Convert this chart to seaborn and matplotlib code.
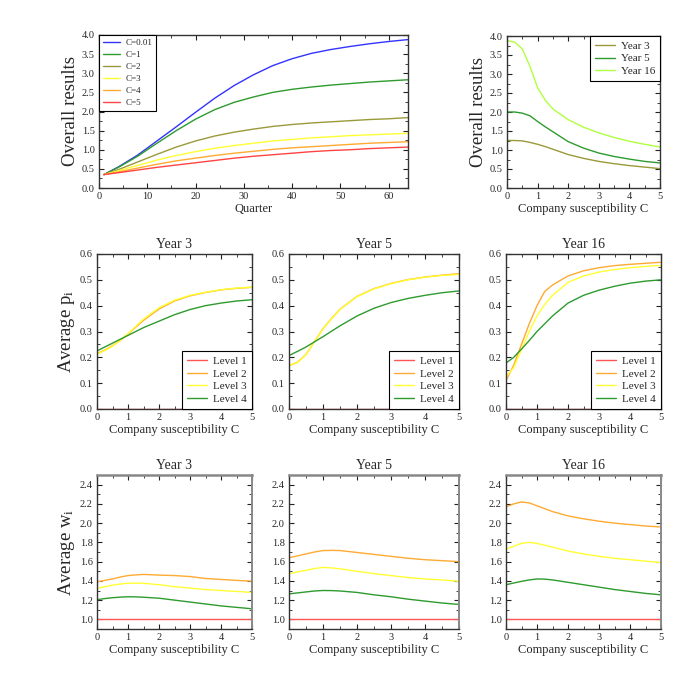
import matplotlib
matplotlib.use("Agg")
import matplotlib.pyplot as plt
import pandas as pd
import seaborn as sns
from matplotlib.ticker import AutoMinorLocator, MultipleLocator

# ---- data ----
quarters = [1, 4, 8, 12, 16, 20, 24, 28, 32, 36, 40, 44, 48, 52, 56, 60, 64]
overall_c001 = [0.35, 0.55, 0.86, 1.23, 1.60, 1.98, 2.35, 2.68, 2.96, 3.20, 3.38, 3.52, 3.62, 3.70, 3.77, 3.83, 3.88]
overall_c1 = [0.35, 0.54, 0.83, 1.17, 1.50, 1.80, 2.05, 2.24, 2.38, 2.50, 2.58, 2.64, 2.69, 2.73, 2.77, 2.80, 2.83]
overall_c2 = [0.35, 0.48, 0.68, 0.88, 1.07, 1.23, 1.36, 1.46, 1.54, 1.61, 1.66, 1.70, 1.73, 1.76, 1.79, 1.81, 1.84]
overall_c3 = [0.35, 0.45, 0.59, 0.73, 0.85, 0.95, 1.04, 1.11, 1.17, 1.23, 1.27, 1.31, 1.34, 1.37, 1.39, 1.41, 1.43]
overall_c4 = [0.35, 0.42, 0.52, 0.62, 0.71, 0.78, 0.85, 0.91, 0.96, 1.01, 1.05, 1.08, 1.11, 1.14, 1.17, 1.19, 1.21]
overall_c5 = [0.35, 0.40, 0.47, 0.54, 0.60, 0.66, 0.72, 0.78, 0.83, 0.87, 0.91, 0.95, 0.98, 1.00, 1.03, 1.05, 1.07]
c_labels = ["C=0.01", "C=1", "C=2", "C=3", "C=4", "C=5"]

susc = [0, 0.25, 0.5, 0.75, 1, 1.25, 1.5, 2, 2.5, 3, 3.5, 4, 4.5, 5]
overall_y3 = [1.25, 1.25, 1.24, 1.20, 1.15, 1.09, 1.02, 0.88, 0.78, 0.70, 0.64, 0.59, 0.55, 0.51]
overall_y5 = [2.00, 2.00, 1.97, 1.90, 1.75, 1.61, 1.48, 1.22, 1.05, 0.92, 0.83, 0.76, 0.70, 0.66]
overall_y16 = [3.88, 3.84, 3.66, 3.20, 2.64, 2.31, 2.08, 1.80, 1.60, 1.45, 1.33, 1.23, 1.15, 1.08]
year_labels = ["Year 3", "Year 5", "Year 16"]

level_labels = ["Level 1", "Level 2", "Level 3", "Level 4"]
p_lvl1 = [0.0] * 14
p_y3_lvl2 = [0.215, 0.228, 0.245, 0.265, 0.290, 0.317, 0.343, 0.387, 0.418, 0.438, 0.451, 0.461, 0.467, 0.471]
p_y3_lvl3 = [0.213, 0.226, 0.243, 0.266, 0.292, 0.320, 0.348, 0.392, 0.421, 0.440, 0.452, 0.462, 0.468, 0.472]
p_y3_lvl4 = [0.225, 0.240, 0.255, 0.270, 0.285, 0.300, 0.315, 0.340, 0.365, 0.385, 0.400, 0.410, 0.418, 0.423]
p_y5_lvl2 = [0.168, 0.181, 0.211, 0.261, 0.311, 0.350, 0.386, 0.436, 0.466, 0.486, 0.501, 0.511, 0.518, 0.524]
p_y5_lvl3 = [0.168, 0.180, 0.210, 0.260, 0.310, 0.349, 0.385, 0.435, 0.465, 0.485, 0.500, 0.510, 0.517, 0.521]
p_y5_lvl4 = [0.207, 0.223, 0.240, 0.260, 0.280, 0.301, 0.322, 0.360, 0.390, 0.412, 0.428, 0.440, 0.450, 0.457]
p_y16_lvl2 = [0.110, 0.170, 0.250, 0.330, 0.400, 0.455, 0.480, 0.515, 0.535, 0.547, 0.555, 0.560, 0.564, 0.568]
p_y16_lvl3 = [0.125, 0.160, 0.230, 0.300, 0.360, 0.405, 0.440, 0.490, 0.515, 0.530, 0.540, 0.547, 0.552, 0.556]
p_y16_lvl4 = [0.178, 0.200, 0.232, 0.265, 0.300, 0.330, 0.360, 0.410, 0.440, 0.460, 0.475, 0.487, 0.495, 0.500]

w_lvl1 = [1.0] * 14
w_y3_lvl2 = [1.390, 1.405, 1.420, 1.440, 1.455, 1.462, 1.467, 1.460, 1.455, 1.445, 1.425, 1.415, 1.405, 1.397]
w_y3_lvl3 = [1.320, 1.340, 1.355, 1.368, 1.375, 1.377, 1.375, 1.360, 1.340, 1.325, 1.310, 1.300, 1.290, 1.280]
w_y3_lvl4 = [1.205, 1.216, 1.225, 1.231, 1.235, 1.234, 1.230, 1.220, 1.200, 1.180, 1.160, 1.140, 1.125, 1.110]
w_y5_lvl2 = [1.640, 1.660, 1.680, 1.700, 1.715, 1.717, 1.715, 1.695, 1.675, 1.655, 1.635, 1.620, 1.610, 1.600]
w_y5_lvl3 = [1.475, 1.493, 1.510, 1.528, 1.540, 1.535, 1.525, 1.500, 1.475, 1.455, 1.435, 1.420, 1.410, 1.395]
w_y5_lvl4 = [1.265, 1.275, 1.285, 1.295, 1.300, 1.299, 1.295, 1.280, 1.255, 1.235, 1.210, 1.190, 1.170, 1.155]
w_y16_lvl2 = [2.170, 2.200, 2.220, 2.210, 2.180, 2.150, 2.120, 2.075, 2.045, 2.020, 2.000, 1.985, 1.970, 1.960]
w_y16_lvl3 = [1.730, 1.760, 1.790, 1.800, 1.790, 1.770, 1.750, 1.710, 1.680, 1.655, 1.635, 1.620, 1.605, 1.590]
w_y16_lvl4 = [1.360, 1.378, 1.395, 1.410, 1.420, 1.418, 1.410, 1.385, 1.360, 1.335, 1.310, 1.290, 1.270, 1.255]

c_colors = ["#3333ff", "#2e9b2e", "#9a9a3a", "#ffff33", "#ffaa33", "#ff4444"]
year_colors = ["#9a9a3a", "#2e9b2e", "#b0ff40"]
level_colors = ["#ff5555", "#ffaa33", "#ffff33", "#2e9b2e"]

sns.set_theme(style="ticks")
plt.rcParams["font.family"] = ["Liberation Serif", "DejaVu Serif"]
plt.rcParams["mathtext.fontset"] = "custom"
plt.rcParams["mathtext.rm"] = "Liberation Serif"
plt.rcParams["mathtext.it"] = "Liberation Serif:italic"


def px_axes(fig, left, right, top, bottom):
    W = H = 695.0
    return fig.add_axes([left / W, 1 - bottom / H, (right - left) / W, (bottom - top) / H])


def style_ax(ax, xmaj, ymaj):
    ax.xaxis.set_major_locator(MultipleLocator(xmaj))
    ax.yaxis.set_major_locator(MultipleLocator(ymaj))
    ax.xaxis.set_minor_locator(AutoMinorLocator(2))
    ax.yaxis.set_minor_locator(AutoMinorLocator(2))
    ax.tick_params(which="both", direction="in", top=True, right=True, labelsize=7.5,
                   color="#222222", pad=3)
    ax.tick_params(which="major", length=3.5, width=0.8)
    ax.tick_params(which="minor", length=2, width=0.6)
    for s in ax.spines.values():
        s.set_color("#333333")
        s.set_linewidth(1.0)


def lines(ax, x, ys, colors, labels):
    for y, col, lab in zip(ys, colors, labels):
        sns.lineplot(x=x, y=y, color=col, label=lab, ax=ax, linewidth=1.0)


def boxed_legend(ax, loc, size, spacing, hlen):
    leg = ax.legend(loc=loc, fontsize=size, frameon=True, fancybox=False, framealpha=1,
                    edgecolor="black", borderaxespad=0, handlelength=hlen,
                    handletextpad=0.55, labelspacing=spacing, borderpad=0.45)
    leg.get_frame().set_linewidth(0.8)
    return leg


fig = plt.figure(figsize=(6.95, 6.95), dpi=100)

# top-left: overall results over quarters
ax = px_axes(fig, 99, 408, 35, 188)
lines(ax, quarters, [overall_c001, overall_c1, overall_c2, overall_c3, overall_c4, overall_c5],
      c_colors, c_labels)
ax.set_xlim(0, 64)
ax.set_ylim(0, 4.0)
style_ax(ax, 10, 0.5)
ax.set_xlabel("Quarter", fontsize=9, labelpad=1)
ax.set_ylabel("Overall results", fontsize=13.5, labelpad=2)
boxed_legend(ax, "upper left", 6.5, 0.4, 1.9)

# top-right: overall results vs susceptibility
ax = px_axes(fig, 507, 660, 36, 188)
lines(ax, susc, [overall_y3, overall_y5, overall_y16], year_colors, year_labels)
ax.set_xlim(0, 5)
ax.set_ylim(0, 4.0)
style_ax(ax, 1, 0.5)
ax.set_xlabel("Company susceptibility C", fontsize=9, labelpad=1)
ax.set_ylabel("Overall results", fontsize=13.5, labelpad=2)
boxed_legend(ax, "upper right", 8, 0.26, 1.8)

cols = [(97, 252), (289, 459), (506, 661)]
p_sets = [[p_lvl1, p_y3_lvl2, p_y3_lvl3, p_y3_lvl4],
          [p_lvl1, p_y5_lvl2, p_y5_lvl3, p_y5_lvl4],
          [p_lvl1, p_y16_lvl2, p_y16_lvl3, p_y16_lvl4]]
w_sets = [[w_lvl1, w_y3_lvl2, w_y3_lvl3, w_y3_lvl4],
          [w_lvl1, w_y5_lvl2, w_y5_lvl3, w_y5_lvl4],
          [w_lvl1, w_y16_lvl2, w_y16_lvl3, w_y16_lvl4]]

for i, ((l, r), title) in enumerate(zip(cols, year_labels)):
    # middle row: average p_i
    ax = px_axes(fig, l, r, 254, 409)
    lines(ax, susc, p_sets[i], level_colors, level_labels)
    ax.set_xlim(0, 5)
    ax.set_ylim(0, 0.6)
    style_ax(ax, 1, 0.1)
    ax.set_title(title, fontsize=10, pad=4)
    ax.set_xlabel("Company susceptibility C", fontsize=9, labelpad=1)
    if i == 0:
        ax.set_ylabel(r"Average p$_\mathrm{i}$", fontsize=13.5, labelpad=2)
    else:
        ax.set_ylabel("")
    boxed_legend(ax, "lower right", 8, 0.26, 1.8)

    # bottom row: average w_i
    ax = px_axes(fig, l, r, 475, 629)
    lines(ax, susc, w_sets[i], level_colors, level_labels)
    ax.set_xlim(0, 5)
    ax.set_ylim(0.9, 2.5)
    style_ax(ax, 1, 0.2)
    ax.spines["top"].set_color("#888888")
    ax.spines["top"].set_linewidth(1.8)
    ax.spines["right"].set_color("#888888")
    ax.spines["right"].set_linewidth(1.4)
    ax.set_title(title, fontsize=10, pad=4)
    ax.set_xlabel("Company susceptibility C", fontsize=9, labelpad=1)
    if i == 0:
        ax.set_ylabel(r"Average w$_\mathrm{i}$", fontsize=13.5, labelpad=2)
    else:
        ax.set_ylabel("")
    ax.get_legend().remove()

fig.savefig("out.png", dpi=100)
